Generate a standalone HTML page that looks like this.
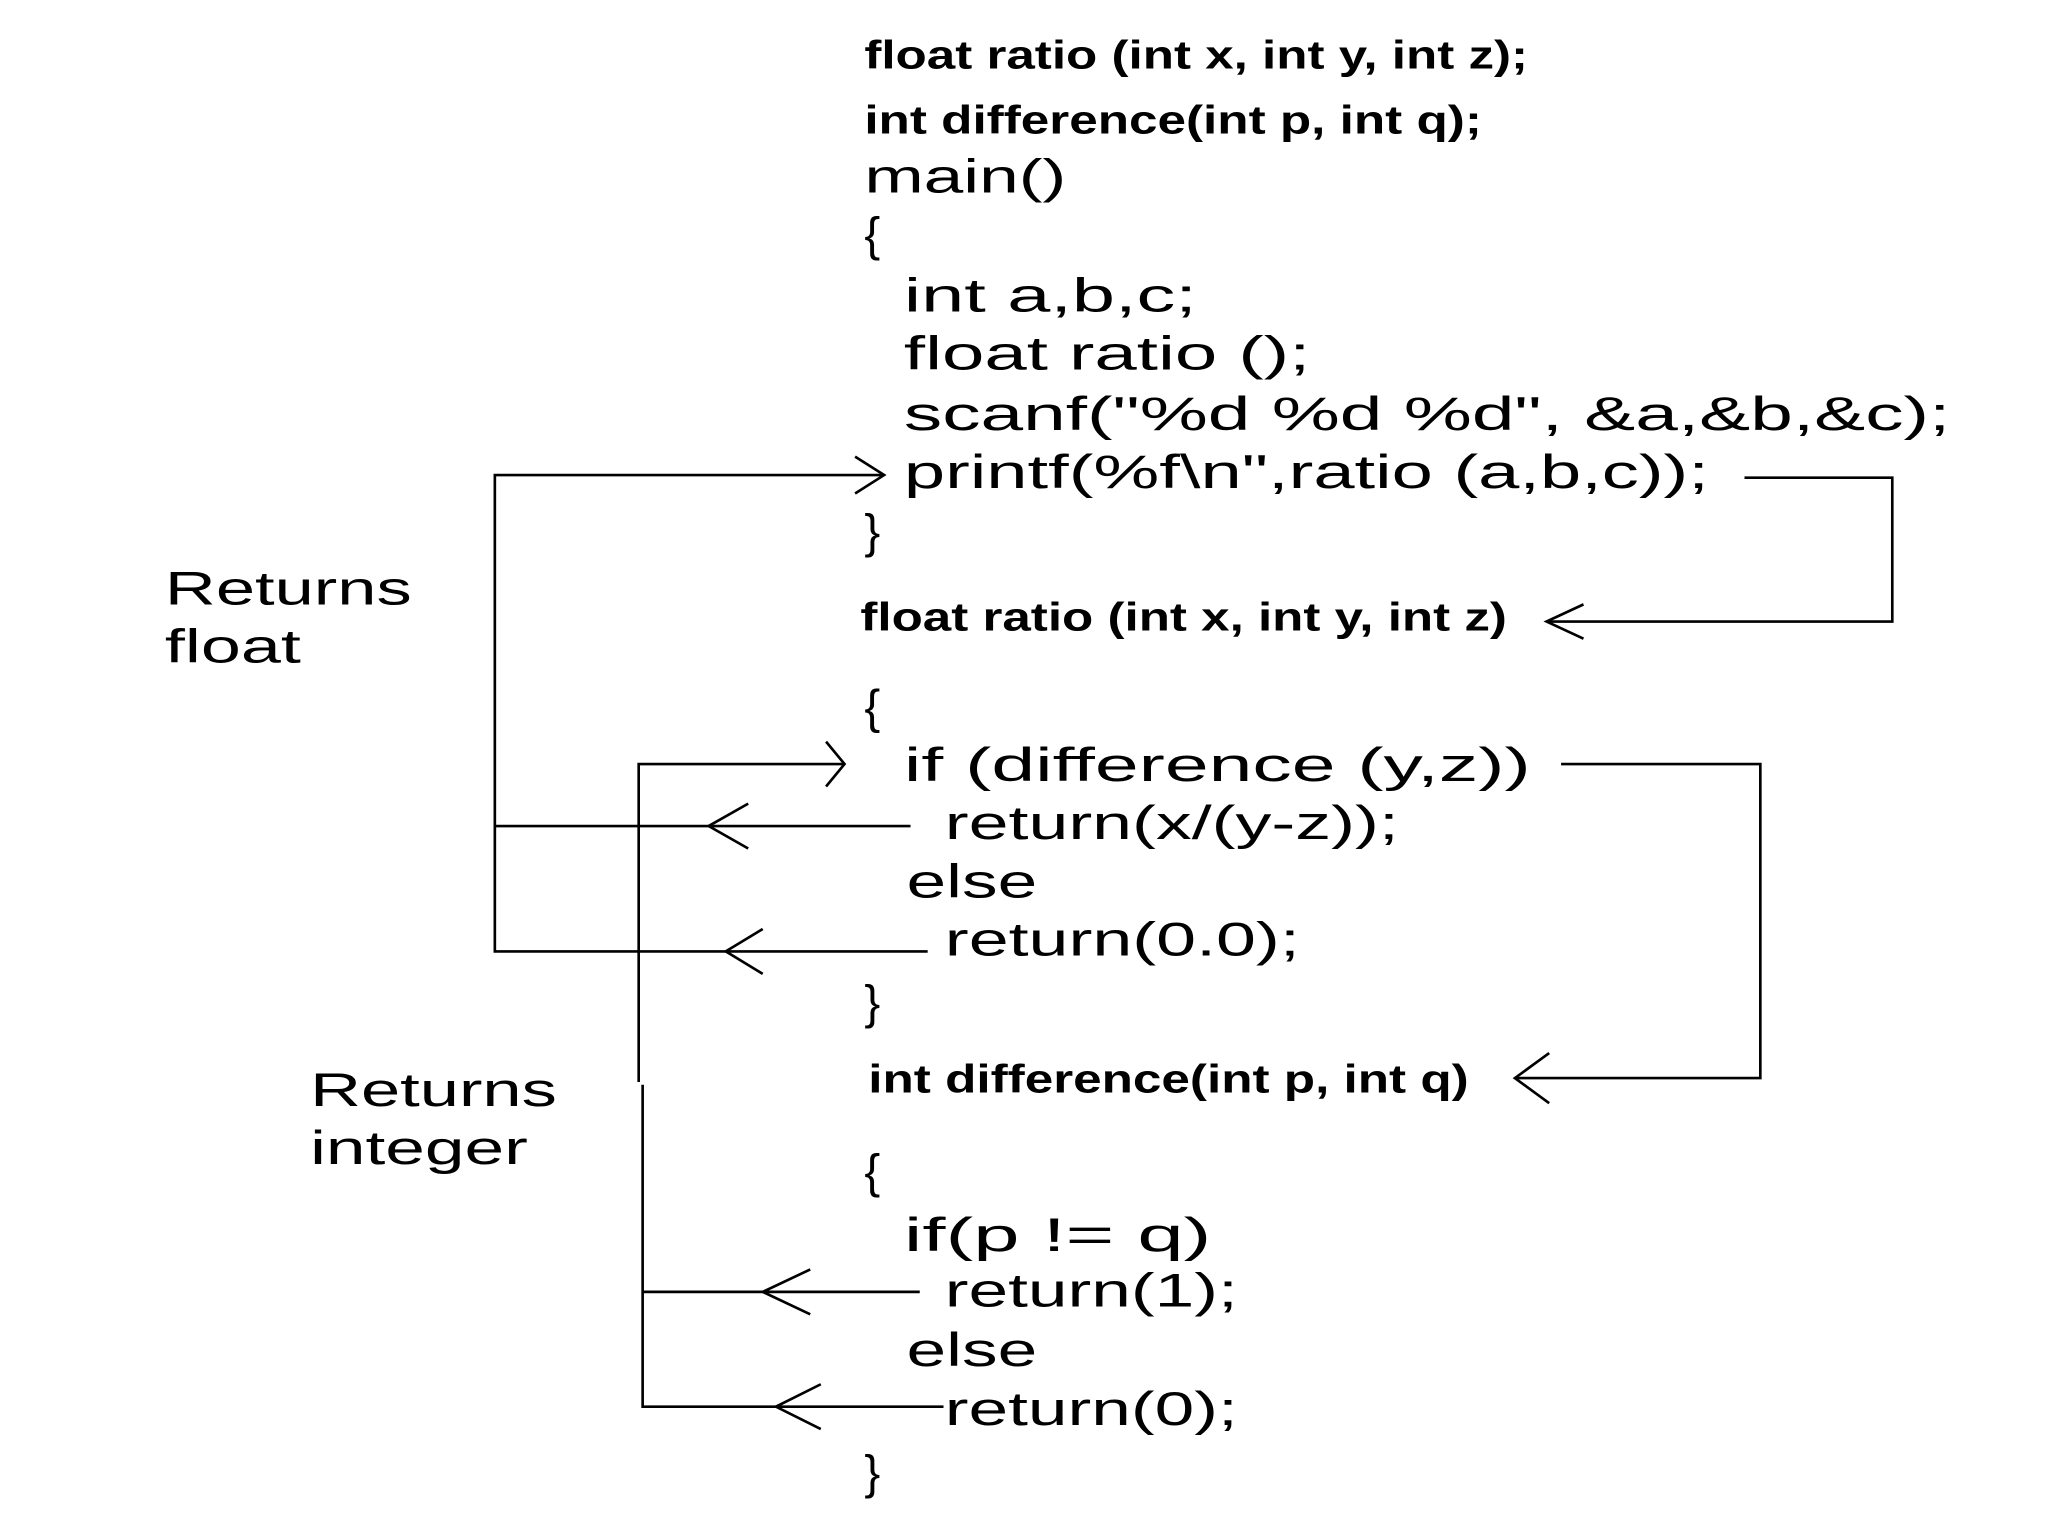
<!DOCTYPE html>
<html><head><meta charset="utf-8"><style>
html,body{margin:0;padding:0;background:#fff;}
svg{display:block;}
text{font-family:"Liberation Sans",Arial,sans-serif;fill:#000;}
.b{font-weight:bold;font-size:30px;}
.r{font-size:36px;}
</style></head><body>
<svg width="2048" height="1536" viewBox="0 0 1552 1164" preserveAspectRatio="none" xmlns="http://www.w3.org/2000/svg">
<g stroke="#000" stroke-width="2" fill="none">
<!-- left float bracket -->
<polyline points="670,360 375,360 375,721 703,721"/>
<line x1="375" y1="626" x2="690" y2="626"/>
<polyline points="648,346 670,360 648,374"/>
<polyline points="567,609 537,626 567,643"/>
<polyline points="578,704 550,721 578,738"/>
<!-- printf -> ratio -->
<polyline points="1322,362 1434,362 1434,471 1172,471"/>
<polyline points="1200,458 1172,471 1200,484"/>
<!-- if difference -> difference -->
<polyline points="1183,579 1334,579 1334,817 1148,817"/>
<polyline points="1174,798 1148,817 1174,836"/>
<!-- integer bracket -->
<polyline points="640,579 484,579 484,820"/>
<polyline points="487,822 487,1066 715,1066"/>
<line x1="487" y1="979" x2="697" y2="979"/>
<polyline points="626,562 640,579 626,596"/>
<polyline points="614,962 578,979 614,996"/>
<polyline points="622,1049 588,1066 622,1083"/>
</g>
<text class="b" x="655" y="52" textLength="503" lengthAdjust="spacingAndGlyphs">float ratio (int x, int y, int z);</text>
<text class="b" x="655" y="101" textLength="468" lengthAdjust="spacingAndGlyphs">int difference(int p, int q);</text>
<text class="r" x="655" y="146" textLength="153" lengthAdjust="spacingAndGlyphs">main()</text>
<text class="r" x="655" y="190">{</text>
<text class="r" x="685" y="236" textLength="222" lengthAdjust="spacingAndGlyphs">int  a,b,c;</text>
<text class="r" x="685" y="280" textLength="308" lengthAdjust="spacingAndGlyphs">float  ratio ();</text>
<text class="r" x="685" y="326" textLength="793" lengthAdjust="spacingAndGlyphs">scanf("%d  %d  %d",  &amp;a,&amp;b,&amp;c);</text>
<text class="r" x="685" y="370" textLength="610" lengthAdjust="spacingAndGlyphs">printf(%f\n",ratio  (a,b,c));</text>
<text class="r" x="655" y="415">}</text>
<text class="b" x="652" y="478" textLength="490" lengthAdjust="spacingAndGlyphs">float ratio (int x, int y, int z)</text>
<text class="r" x="655" y="548">{</text>
<text class="r" x="685" y="592" textLength="475" lengthAdjust="spacingAndGlyphs">if  (difference  (y,z))</text>
<text class="r" x="716" y="636" textLength="344" lengthAdjust="spacingAndGlyphs">return(x/(y-z));</text>
<text class="r" x="687" y="680" textLength="99" lengthAdjust="spacingAndGlyphs">else</text>
<text class="r" x="716" y="724" textLength="269" lengthAdjust="spacingAndGlyphs">return(0.0);</text>
<text class="r" x="655" y="772">}</text>
<text class="b" x="658" y="828" textLength="455" lengthAdjust="spacingAndGlyphs">int difference(int p, int q)</text>
<text class="r" x="655" y="900">{</text>
<text class="r" x="685" y="948" textLength="233" lengthAdjust="spacingAndGlyphs">if(p  !=  q)</text>
<text class="r" x="716" y="990" textLength="222" lengthAdjust="spacingAndGlyphs">return(1);</text>
<text class="r" x="687" y="1035" textLength="99" lengthAdjust="spacingAndGlyphs">else</text>
<text class="r" x="716" y="1080" textLength="222" lengthAdjust="spacingAndGlyphs">return(0);</text>
<text class="r" x="655" y="1128">}</text>
<text class="r" x="125" y="458" textLength="187" lengthAdjust="spacingAndGlyphs">Returns</text>
<text class="r" x="125" y="502" textLength="103" lengthAdjust="spacingAndGlyphs">float</text>
<text class="r" x="235" y="838" textLength="187" lengthAdjust="spacingAndGlyphs">Returns</text>
<text class="r" x="235" y="882" textLength="165" lengthAdjust="spacingAndGlyphs">integer</text>
</svg>
</body></html>
